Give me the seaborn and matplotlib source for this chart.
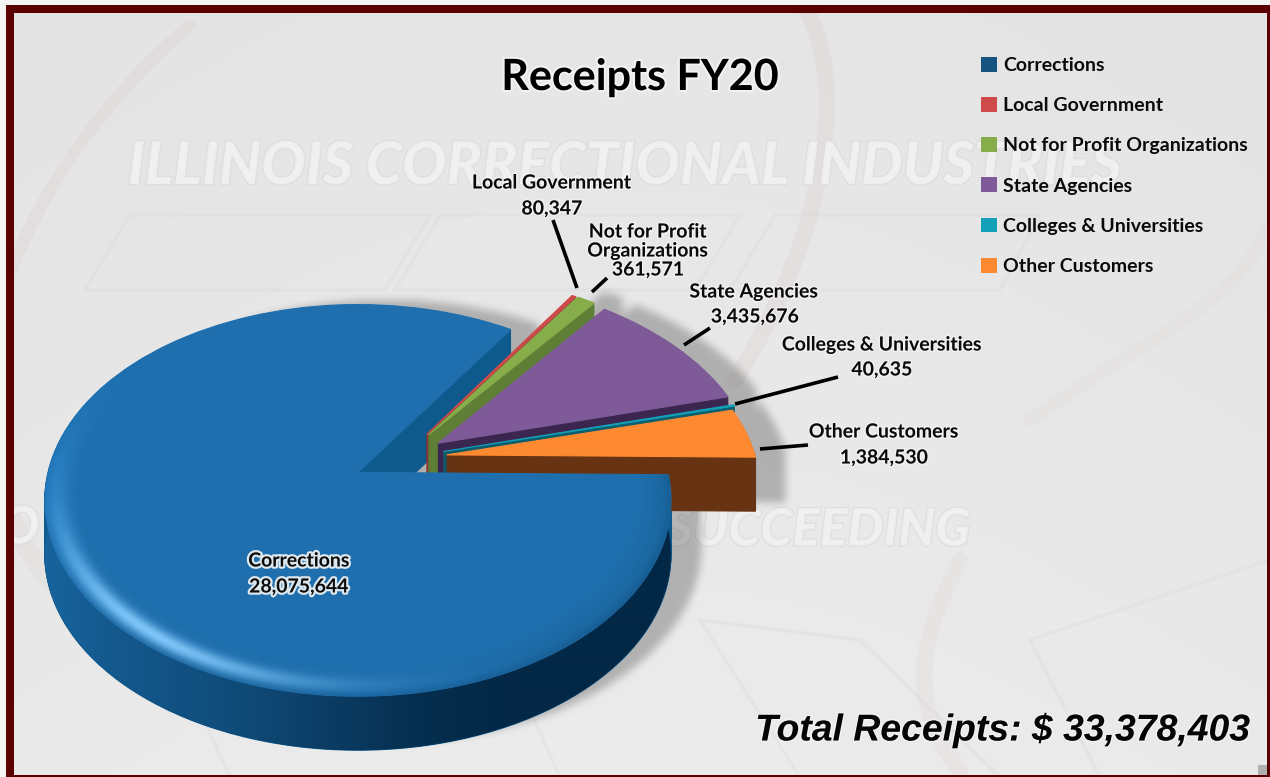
import numpy as np
import matplotlib
matplotlib.use("Agg")
import matplotlib.pyplot as plt
import seaborn as sns
from matplotlib import patheffects as pe
from matplotlib.patches import Patch, PathPatch, Polygon, Rectangle
from matplotlib.path import Path
from matplotlib.transforms import Transform

# ---- data ----
categories = ["Corrections", "Local Government", "Not for Profit Organizations",
              "State Agencies", "Colleges & Universities", "Other Customers"]
receipts = [28075644, 80347, 361571, 3435676, 40635, 1384530]
title_text = "Receipts FY20"

# ---- style ----
top_colors = ["#1f6fae", "#cf4b4b", "#86ad4a", "#7f5a99", "#12a0b8", "#fd8a31"]
wall_colors = ["#0e5a8c", "#8a3030", "#5f7f36", "#3b2650", "#0b5f6e", "#673312"]
legend_colors = ["#17537f", "#cf4b4b", "#86ad4a", "#7f5a99", "#12a0b8", "#fd8a31"]
explode = [0.160, 0.155, 0.157, 0.147, 0.143, 0.150]
radii = [1.0, 1.03, 1.03, 1.035, 1.03, 1.008]
pie_center = (0.141, 0.078)
start_angle = -0.7
W, H = 1270, 777
OX, OY, RX, RY, P = 358.0, 473.0, 310.0, 192.0, 0.143
DEPTH = 54

sns.set_theme(style="white")
plt.rcParams["font.family"] = ["Lato", "DejaVu Sans"]


class Tilt(Transform):
    """Projects the flat pie onto the tilted pixel plane."""
    input_dims = output_dims = 2
    is_affine = False
    has_inverse = False

    def __init__(self, drop=0.0):
        super().__init__()
        self.drop = drop

    def transform_non_affine(self, values):
        xy = np.asarray(values, float)
        k = 1.0 / (1.0 + P * xy[:, 1])
        return np.column_stack([OX + RX * xy[:, 0] * k,
                                OY - RY * xy[:, 1] * k + self.drop])


fig = plt.figure(figsize=(W / 100, H / 100), dpi=100)
ax = fig.add_axes([0, 0, 1, 1])
Y, X = np.mgrid[0:H, 0:W]
X = X + 0.5
Y = Y + 0.5


def show(img, z, **kw):
    return ax.imshow(img, extent=(0, W, H, 0), origin="upper", aspect="auto",
                     zorder=z, interpolation="bilinear", **kw)


def draw_pie(colors, drop, zorders):
    wedges, _ = ax.pie(receipts, explode=explode, colors=colors, center=pie_center,
                       radius=1.0, startangle=start_angle, counterclock=False,
                       wedgeprops=dict(linewidth=0.8, edgecolor="none"))
    tr = Tilt(drop) + ax.transData
    for w, c, z, rad in zip(wedges, colors, zorders, radii):
        w.set_radius(rad)
        w.set_transform(tr)
        w.set_edgecolor(c)
        w.set_zorder(z)
    return wedges


# ---- background ----
base = 228 + 6 * (Y / H) + 2 * np.sin(X / W * 3.1)
bg = np.dstack([base, base - 0.5, base - 0.5]) / 255.0
show(np.clip(bg, 0, 1), -10)

maroon = "#a05050"
for verts, lw, al in [
    ([(190, 25), (90, 110), (30, 210), (0, 300)], 9, 0.045),
    ([(800, 0), (850, 70), (830, 230), (735, 380)], 12, 0.05),
    ([(1265, 230), (1240, 300), (1160, 330), (1030, 420)], 10, 0.025),
    ([(0, 480), (20, 560), (60, 600), (120, 640)], 14, 0.04),
    ([(960, 560), (920, 640), (905, 700), (960, 770)], 12, 0.035),
]:
    ax.add_patch(PathPatch(Path(verts, [Path.MOVETO, Path.CURVE4, Path.CURVE4, Path.CURVE4]),
                           fill=False, lw=lw, ec=maroon, alpha=al, zorder=-9, capstyle="round"))
for pts in [
    [(85, 290), (130, 215), (430, 215), (385, 290)],
    [(395, 290), (440, 215), (740, 215), (695, 290)],
    [(730, 290), (775, 215), (1040, 215), (1000, 290)],
    [(150, 600), (480, 600), (560, 777), (230, 777)],
    [(700, 620), (860, 640), (1000, 777), (800, 777)],
    [(1030, 640), (1270, 560), (1270, 777), (1100, 777)],
]:
    ax.add_patch(Polygon(pts, closed=True, fill=False, lw=2.5, ec="#d8d8d8", alpha=0.3, zorder=-8))

mark_kw = dict(family="Lato", weight="black", style="italic", color="#f1f1f1",
               zorder=-7, va="center", alpha=0.85,
               path_effects=[pe.withStroke(linewidth=2.0, foreground="#dcdcdc", alpha=0.7)])
ax.text(625, 167, "ILLINOIS CORRECTIONAL INDUSTRIES", ha="center", fontsize=42.3, **mark_kw)
ax.text(818, 531, "SUCCEEDING", ha="center", fontsize=37, **mark_kw)
ax.text(20, 529, "O", ha="center", fontsize=37, **mark_kw)

# ---- pie body ----
zt = [9, 3.5, 4.5, 5.5, 6.5, 7.5]   # top faces
zw = [2, 3.0, 4.0, 5.0, 6.0, 7.0]   # walls
for d in np.arange(DEPTH, 0, -1):
    draw_pie(wall_colors, float(d), zw)
tops = draw_pie(top_colors, 0.0, zt)
ax.set_aspect("auto")

# soft shadow from the wedge geometry
mask = np.zeros((H, W))
for d in np.arange(0, DEPTH + 1, 5):
    yy = (OY - (Y + 3 - d)) / RY
    k = 1 - P * yy
    v = yy / (1 - P * yy)
    u = (X - 32 - OX) / (RX * k)
    for w in tops:
        cx, cy = w.center
        r = np.hypot(u - cx, v - cy)
        th = np.degrees(np.arctan2(v - cy, u - cx))
        a = (th - w.theta1) % 360
        mask[(r <= w.r) & (a <= (w.theta2 - w.theta1))] = 1.0


def box(a, n, axis):
    c = np.cumsum(a, axis=axis)
    return (np.roll(c, -n, axis=axis) - np.roll(c, n, axis=axis)) / (2 * n)


for _ in range(3):
    mask = box(box(mask, 4, 0), 4, 1)
mask = np.clip(mask, 0, 1)
shadow = np.zeros((H, W, 4))
shadow[..., :3] = 0.12
shadow[..., 3] = mask * 0.28
show(shadow, 1)

# front wall gradient of the main slice
main = tops[0]
cx, cy = main.center
arc = np.radians(np.linspace(main.theta1 + 110, main.theta2, 240))
disk = np.column_stack([cx + np.cos(arc), cy + np.sin(arc)])
upper = Tilt(0.0).transform(disk)
lower = Tilt(float(DEPTH)).transform(disk)
band = Polygon(np.vstack([upper, lower[::-1]]), closed=True, transform=ax.transData,
               fc="none", ec="none")
ax.add_patch(band)
xs = np.array([40, 120, 230, 330, 420, 520, 680]) / W
rgb = np.array([[24, 100, 158], [20, 88, 140], [16, 76, 122], [11, 60, 100],
                [6, 46, 78], [4, 40, 70], [3, 40, 70]]) / 255.0
grad = np.stack([np.interp(np.linspace(0, 1, W), xs, rgb[:, i]) for i in range(3)], axis=-1)
im = show(grad[None, :, :], 8)
im.set_clip_path(band)

# bevel on the rim of the main slice
yy = (OY - Y) / RY
k = 1 - P * yy
v = yy / (1 - P * yy)
u = (X - OX) / (RX * k)
r = np.hypot(u - cx, v - cy)
th = np.degrees(np.arctan2(v - cy, u - cx)) % 360
w1 = 0.95 * np.exp(-((r - 0.955) / 0.03) ** 2) * np.exp(-((th - 232) / 30) ** 2)
w2 = 0.55 * np.clip((r - 0.90) / 0.07, 0, 1) * np.exp(-((th - 192) / 28) ** 2)
w3 = 0.25 * np.clip((r - 0.975) / 0.025, 0, 1) * np.clip((th - 160) / 40, 0, 1)
w4 = 0.35 * np.clip((r - 0.90) / 0.07, 0, 1) * np.clip((th - 270) / 40, 0, 1)
tot = np.maximum(w1 + w2 + w3 + w4, 1e-6)
cols = [np.array(c) / 255.0 for c in [(130, 200, 250), (45, 140, 210), (14, 70, 116), (20, 90, 140)]]
over = np.zeros((H, W, 4))
for i in range(3):
    over[..., i] = (w1 * cols[0][i] + w2 * cols[1][i] + w3 * cols[2][i] + w4 * cols[3][i]) / tot
over[..., 3] = np.clip(w1 + w2 + w3 + w4, 0, 1)
im2 = show(over, 10)
im2.set_clip_path(main)

# ---- frame ----
ax.add_patch(Rectangle((0, 0), W, 5, fc="#f4f4f4", ec="none", zorder=20))
ax.add_patch(Rectangle((0, 0), 6, H, fc="#f4f4f4", ec="none", zorder=20))
frame_color = "#5a0000"
for rect in [(6, 5, W, 8), (6, 5, 8, H), (1267, 5, 3, H), (6, 775, W, 2)]:
    ax.add_patch(Rectangle(rect[:2], rect[2], rect[3], fc=frame_color, ec="none", zorder=21))

# ---- leaders ----
leaders = [((553, 220), (577, 288)), ((607, 278), (592, 292)), ((710, 328), (684, 345)),
           ((838, 377), (735, 404)), ((808, 445), (760, 449))]
for a, b in leaders:
    ax.plot([a[0], b[0]], [a[1], b[1]], color="black", lw=2.6, zorder=12, solid_capstyle="butt")

# ---- text ----
glow_fx = [pe.withStroke(linewidth=2.0, foreground="white", alpha=0.45)]
lab = dict(ha="center", va="center", fontsize=14, weight="bold", color="#0a0a0a", zorder=13,
           path_effects=glow_fx, linespacing=0.95)
fmt = [f"{x:,}" for x in receipts]
ax.text(552, 183, categories[1], **lab)
ax.text(552, 209, fmt[1], **lab)
ax.text(648, 232, "Not for Profit", **lab)
ax.text(648, 251, "Organizations", **lab)
ax.text(648, 270, fmt[2], **lab)
ax.text(754, 292, categories[3], **lab)
ax.text(755, 317, fmt[3], **lab)
ax.text(882, 345, categories[4], **lab)
ax.text(882, 370, fmt[4], **lab)
ax.text(884, 432, categories[5], **lab)
ax.text(884, 458, fmt[5], **lab)
lab_c = dict(lab, path_effects=[pe.withStroke(linewidth=3.2, foreground="#e8eef2", alpha=0.95)])
ax.text(299, 561, categories[0], **lab_c)
ax.text(299, 587, fmt[0], **lab_c)

ax.text(640, 77, title_text, ha="center", va="center", fontsize=31, weight="bold", color="black",
        zorder=13, path_effects=[pe.withStroke(linewidth=3, foreground="white", alpha=0.5)])
ax.text(1250, 731, f"Total Receipts: $ {sum(receipts):,}", ha="right", va="center",
        family="Liberation Sans", weight="bold", style="italic", fontsize=26.9, color="#050505",
        zorder=13, path_effects=[pe.withStroke(linewidth=2.0, foreground="white", alpha=0.4)])

# ---- legend ----
handles = [Patch(fc=c, ec="none") for c in legend_colors]
leg = ax.legend(handles, categories, loc="upper left", bbox_to_anchor=(981 / W, 1 - 57 / H),
                frameon=False, borderpad=0, borderaxespad=0, labelspacing=1.18,
                handlelength=0.8, handleheight=0.8, handletextpad=0.32,
                prop=dict(family=["Lato", "DejaVu Sans"], weight="bold", size=14))
leg.set_zorder(14)
for t in leg.get_texts():
    t.set_color("#0a0a0a")

ax.set_xlim(0, W)
ax.set_ylim(H, 0)
ax.set_axis_off()
fig.savefig("out.png", dpi=100)
